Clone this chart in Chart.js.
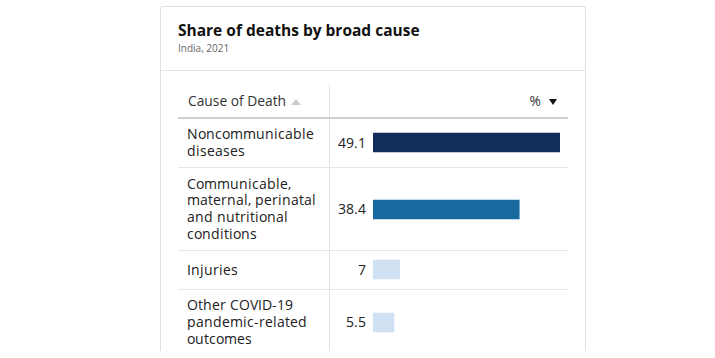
<!DOCTYPE html>
<html>
<head>
<meta charset="utf-8">
<script src="https://cdn.jsdelivr.net/npm/chart.js@4"></script>
<style>
  /* 行間が詰まっているので、同じ字形のまま行ボックスだけ低くする */
  @font-face {
    font-family: "OpenSansTight";
    src: local("Open Sans"), local("Open Sans Regular"), local("OpenSans-Regular");
    font-weight: 400;
    ascent-override: 98%;
    descent-override: 21%;
    line-gap-override: 0%;
  }
  html, body { margin: 0; padding: 0; background: #fff; }
  body { width: 715px; height: 358px; overflow: hidden; position: relative; font-family: "Open Sans", "Noto Sans", sans-serif; color: #222; }
  .card { position: absolute; left: 160px; top: 6px; width: 426px; height: 345px; border: 1px solid #e0e0e0; border-bottom: none; border-radius: 3px 3px 0 0; box-sizing: border-box; overflow: hidden; }
  .head { padding: 14px 17px 16px 17px; border-bottom: 1px solid #e3e3e3; }
  .head h1 { margin: 0; font-size: 15.5px; line-height: 18px; font-weight: 700; color: #111; }
  .head .sub { margin-top: 3px; font-size: 10px; line-height: 12px; color: #666; }
  table { margin: 14px 0 0 17px; width: 390px; border-collapse: collapse; table-layout: fixed; }
  th, td { font-size: 13.8px; line-height: 16.7px; padding: 7.5px 0; }
  td { font-family: "OpenSansTight", "Open Sans", sans-serif; }
  th { font-weight: 400; color: #333; border-bottom: 2px solid #cfcfcf; padding: 8px 0 7px 0; }
  td { border-bottom: 1px solid #e6e6e6; vertical-align: middle; }
  .c1 { width: 151px; border-right: 1px solid #e0e0e0; text-align: left; padding-left: 9px; box-sizing: border-box; }
  th.c1 { padding-left: 10px; }
  th.c2 { text-align: right; padding-right: 11px; }
  .up { display: inline-block; width: 0; height: 0; border-left: 5px solid transparent; border-right: 5px solid transparent; border-bottom: 6px solid #cccccc; margin-left: 5px; vertical-align: 1px; }
  .down { display: inline-block; width: 0; height: 0; border-left: 4.5px solid transparent; border-right: 4.5px solid transparent; border-top: 6px solid #111; margin-left: 8px; vertical-align: 1px; }
  .cell { display: flex; align-items: center; }
  .val { width: 36px; text-align: right; color: #222; }
  .bar { margin-left: 7px; width: 187px; height: 23px; }
  .bar canvas { display: block; }
</style>
</head>
<body>
<div class="card">
  <div class="head">
    <h1 id="title"></h1>
    <div class="sub" id="subtitle"></div>
  </div>
  <table>
    <thead>
      <tr><th class="c1">Cause of Death<span class="up"></span></th><th class="c2">%<span class="down"></span></th></tr>
    </thead>
    <tbody id="rows"></tbody>
  </table>
</div>
<script>
// ===== データ =====
const chartTitle = "Share of deaths by broad cause";
const chartSubtitle = "India, 2021";
const causes = [
  ["Noncommunicable", "diseases"],
  ["Communicable,", "maternal, perinatal", "and nutritional", "conditions"],
  ["Injuries"],
  ["Other COVID-19", "pandemic-related", "outcomes"]
];
const shares = [49.1, 38.4, 7, 5.5];
const barColors = ["#112d5b", "#186a9e", "#cfe1f2", "#cfe1f2"];

document.getElementById("title").textContent = chartTitle;
document.getElementById("subtitle").textContent = chartSubtitle;

// 全行で同じ横軸スケールを使う
const xMax = Math.max(...shares);
const tbody = document.getElementById("rows");

causes.forEach((lines, i) => {
  const tr = document.createElement("tr");

  const tdLabel = document.createElement("td");
  tdLabel.className = "c1";
  lines.forEach((t, k) => {
    if (k > 0) tdLabel.appendChild(document.createElement("br"));
    tdLabel.appendChild(document.createTextNode(t));
  });
  tr.appendChild(tdLabel);

  const tdBar = document.createElement("td");
  tdBar.className = "c2";
  const cell = document.createElement("div");
  cell.className = "cell";
  const val = document.createElement("span");
  val.className = "val";
  val.textContent = String(shares[i]);
  cell.appendChild(val);
  const wrap = document.createElement("div");
  wrap.className = "bar";
  const cv = document.createElement("canvas");
  cv.width = 187;
  cv.height = 23;
  wrap.appendChild(cv);
  cell.appendChild(wrap);
  tdBar.appendChild(cell);
  tr.appendChild(tdBar);
  tbody.appendChild(tr);

  new Chart(cv, {
    type: "bar",
    data: {
      labels: [lines.join(" ")],
      datasets: [{
        data: [shares[i]],
        backgroundColor: barColors[i],
        borderWidth: 0,
        barThickness: 19
      }]
    },
    options: {
      indexAxis: "y",
      responsive: false,
      animation: false,
      events: [],
      layout: { padding: 0 },
      scales: {
        x: { display: false, min: 0, max: xMax },
        y: { display: false }
      },
      plugins: {
        legend: { display: false },
        tooltip: { enabled: false }
      }
    }
  });
});
</script>
</body>
</html>
